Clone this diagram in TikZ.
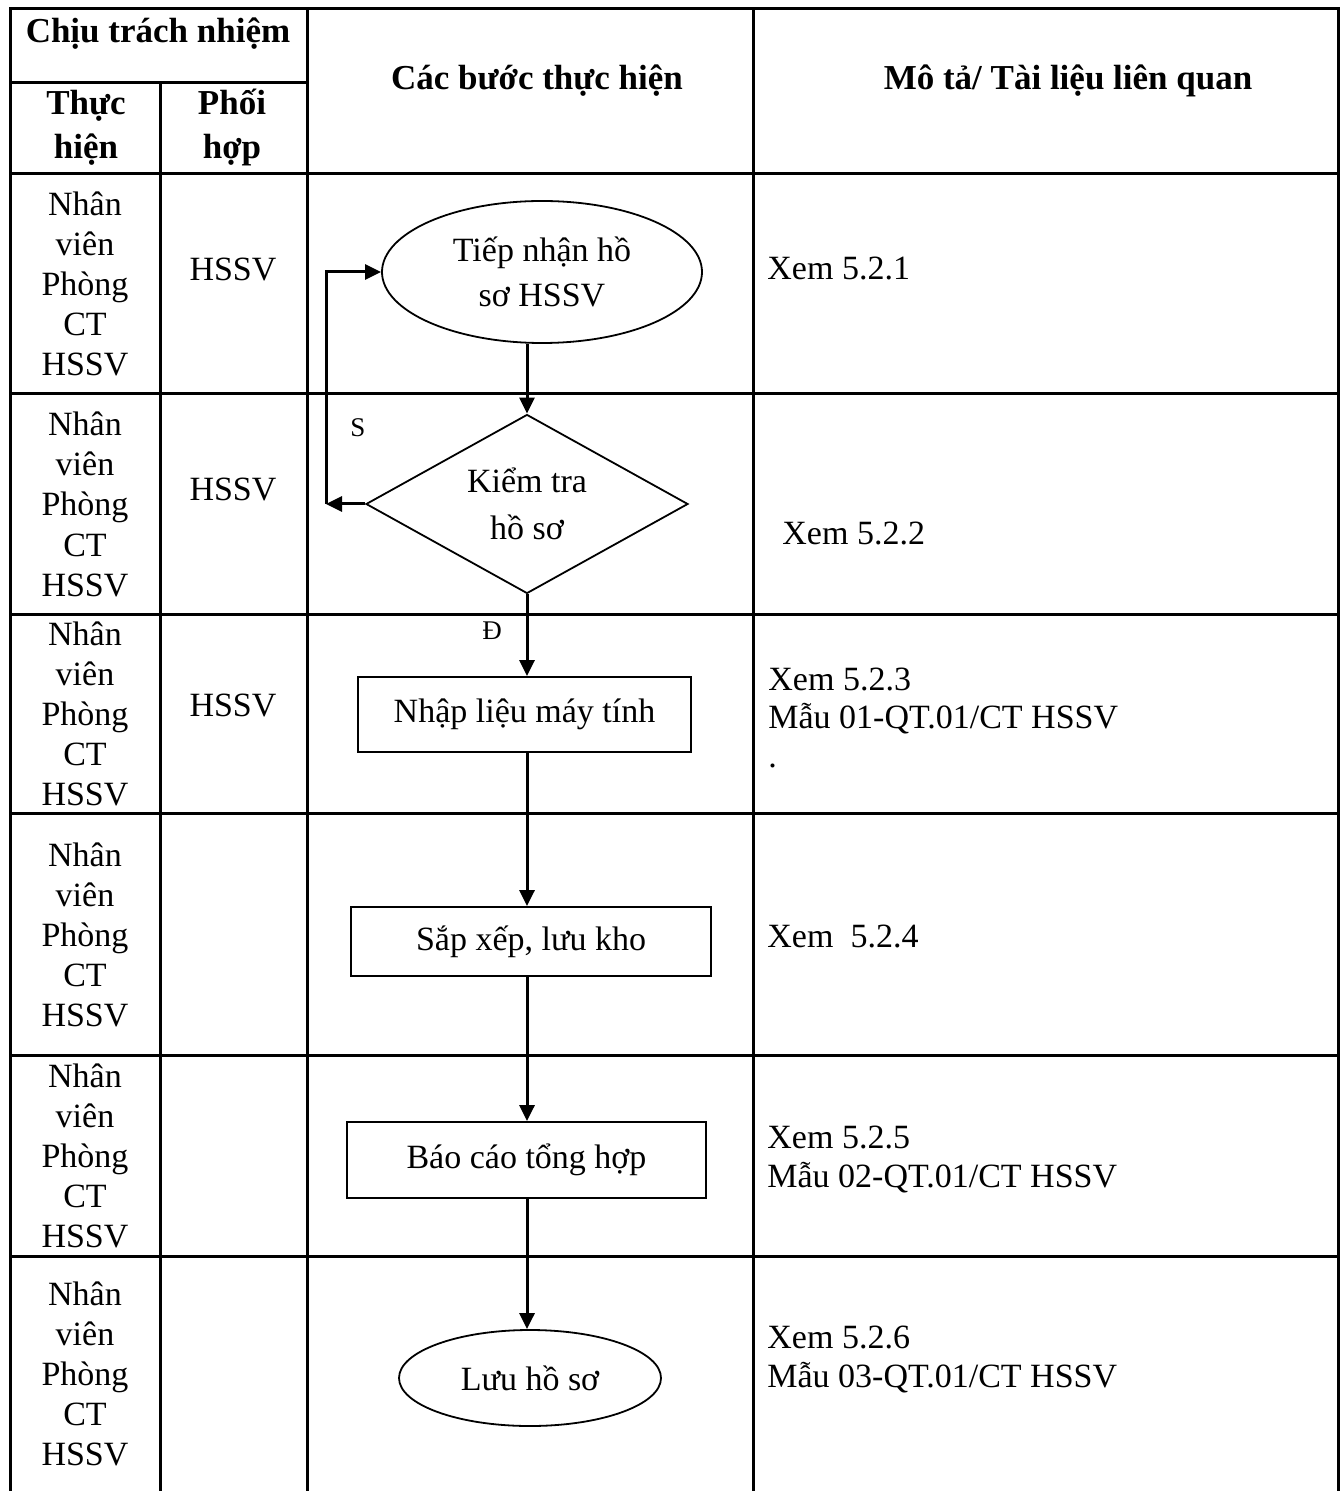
\documentclass[tikz,border=0pt]{standalone}
\usepackage{fontspec}
\setmainfont{Liberation Serif}
\usetikzlibrary{shapes.geometric,arrows.meta}
\begin{document}
\begin{tikzpicture}[x=0.5pt,y=-0.5pt,
  grid/.style={line width=1.5pt,line cap=rect},
  txt/.style={inner sep=0pt,font=\fontsize{17}{20}\selectfont},
  hdr/.style={inner sep=0pt,font=\fontsize{17.5}{20}\selectfont\bfseries},
  small/.style={inner sep=0pt,font=\fontsize{13.5}{16}\selectfont},
  shapebox/.style={draw,line width=0.9pt,inner sep=0pt,font=\fontsize{17}{22.5}\selectfont,align=center},
  flow/.style={line width=1.5pt,-{Triangle[length=8pt,width=7.5pt]}},
]
\useasboundingbox (0,0) rectangle (1343,1491);
% table grid
\draw[grid] (10,9) -- (1338,9);
\draw[grid] (10,83) -- (307,83);
\foreach \y in {174,394,614,813,1055,1256} \draw[grid] (10,\y) -- (1338,\y);
\foreach \x in {10,307,753,1338} \draw[grid] (\x,9) -- (\x,1495);
\draw[grid] (160,83) -- (160,1495);
% headers
\node[hdr,anchor=base] (h1) at (158,43) {Chịu trách nhiệm};
\node[hdr,anchor=base] (h2) at (86,115) {Thực};
\node[hdr,anchor=base] (h3) at (86,159) {hiện};
\node[hdr,anchor=base] (h4) at (232,115) {Phối};
\node[hdr,anchor=base] (h5) at (232,159) {hợp};
\node[hdr,anchor=base] (h6) at (537,90) {Các bước thực hiện};
\node[hdr,anchor=base] (h7) at (1068,90) {Mô tả/ Tài liệu liên quan};
% left column
\foreach \r/\c in {1/284,2/504,3/713.5,4/934,5/1155.5,6/1373.5}{
  \foreach \t [count=\i] in {Nhân,viên,Phòng,CT,HSSV}
    \node[txt,anchor=base] (L\r-\i) at (85,{\c-68+40*(\i-1)}) {\t};
}
% second column
\node[txt,anchor=base] (P1) at (233,281) {HSSV};
\node[txt,anchor=base] (P2) at (233,501) {HSSV};
\node[txt,anchor=base] (P3) at (233,716) {HSSV};
% right column
\node[txt,anchor=base west] (M1) at (767,280) {Xem 5.2.1};
\node[txt,anchor=base west] (M2) at (782,545) {Xem 5.2.2};
\node[txt,anchor=base west] (M3a) at (768,690) {Xem 5.2.3};
\node[txt,anchor=base west] (M3b) at (768,728) {Mẫu 01-QT.01/CT HSSV};
\node[txt,anchor=base west] (M3c) at (768,767) {.};
\node[txt,anchor=base west] (M4) at (767,947) {Xem\ \ 5.2.4};
\node[txt,anchor=base west] (M5a) at (767,1148) {Xem 5.2.5};
\node[txt,anchor=base west] (M5b) at (767,1187) {Mẫu 02-QT.01/CT HSSV};
\node[txt,anchor=base west] (M6a) at (767,1348) {Xem 5.2.6};
\node[txt,anchor=base west] (M6b) at (767,1387) {Mẫu 03-QT.01/CT HSSV};
% flowchart
\node[shapebox,ellipse,minimum width=160pt,minimum height=71pt] (e1) at (542,272) {Tiếp nhận hồ\\sơ HSSV};
\node[shapebox,diamond,aspect=1.8,minimum width=161pt,minimum height=89.5pt,font=\fontsize{17}{23.5}\selectfont] (d) at (527,504) {Kiểm tra\\hồ sơ};
\node[shapebox,rectangle,minimum width=166.5pt,minimum height=37.5pt] (r1) at (524.5,714.5) {Nhập liệu máy tính};
\node[shapebox,rectangle,minimum width=180pt,minimum height=34.5pt] (r2) at (531,941.5) {Sắp xếp, lưu kho};
\node[shapebox,rectangle,minimum width=179.5pt,minimum height=38pt] (r3) at (526.5,1160) {Báo cáo tổng hợp};
\node[shapebox,ellipse,minimum width=131pt,minimum height=48pt] (e2) at (530,1378) {Lưu hồ sơ};
\coordinate (c1) at (326,504);
\draw[flow] (e1.south -| d.north) -- (d.north);
\draw[flow] (d.west) -- (c1);
\draw[flow] (c1) |- (e1.west);
\draw[flow] (d.south) -- (r1.north -| d.south);
\draw[flow] (r1.south -| d.south) -- (r2.north -| d.south);
\draw[flow] (r2.south -| d.south) -- (r3.north -| d.south);
\draw[flow] (r3.south -| d.south) -- (e2.north -| d.south);
\node[small] (S) at (358,428) {S};
\node[small] (D) at (492,631) {Đ};
\end{tikzpicture}
\end{document}
